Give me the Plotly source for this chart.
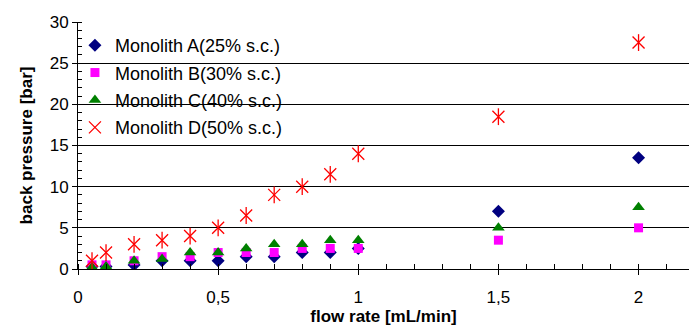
import plotly.graph_objects as go

flow = [0.05, 0.1, 0.2, 0.3, 0.4, 0.5, 0.6, 0.7, 0.8, 0.9, 1.0, 1.5, 2.0]
mono_a = [0.3, 0.3, 0.5, 1.0, 1.0, 1.0, 1.5, 1.5, 2.0, 2.0, 2.5, 7.0, 13.5]
mono_b = [0.5, 0.5, 1.0, 1.5, 1.5, 2.0, 2.0, 2.0, 2.5, 2.5, 2.5, 3.5, 5.0]
mono_c = [0.2, 0.3, 1.0, 1.2, 2.0, 2.0, 2.5, 3.0, 3.0, 3.5, 3.5, 5.0, 7.5]
mono_d = [1.0, 2.0, 3.0, 3.5, 4.0, 5.0, 6.5, 9.0, 10.0, 11.5, 14.0, 18.5, 27.5]
names = ["Monolith A(25% s.c.)", "Monolith B(30% s.c.)", "Monolith C(40% s.c.)", "Monolith D(50% s.c.)"]
x_tickvals = [0, 0.5, 1, 1.5, 2]
x_ticktext = ["0", "0,5", "1", "1,5", "2"]
y_tickvals = [0, 5, 10, 15, 20, 25, 30]

font = "Liberation Sans, Arial, sans-serif"
fig = go.Figure()
fig.add_trace(go.Scatter(x=flow, y=mono_a, mode="markers", name=names[0], legendgroup="a",
                         marker=dict(symbol="diamond", size=10, color="#000080")))
fig.add_trace(go.Scatter(x=flow, y=mono_b, mode="markers", name=names[1], legendgroup="b",
                         marker=dict(symbol="square", size=9, color="#FF00FF")))
fig.add_trace(go.Scatter(x=flow, y=mono_c, mode="markers", name=names[2], legendgroup="c",
                         marker=dict(symbol="triangle-up", size=11, color="#008000")))
fig.add_trace(go.Scatter(x=flow, y=mono_d, mode="markers", name=names[3], legendgroup="d",
                         marker=dict(symbol="x-thin-open", size=12, color="#FF0000",
                                     line=dict(color="#FF0000", width=1.3))))
fig.add_trace(go.Scatter(x=flow, y=mono_d, mode="markers", name=names[3], legendgroup="d",
                         showlegend=False,
                         marker=dict(symbol="line-ns-open", size=12, color="#FF0000",
                                     line=dict(color="#FF0000", width=1.3))))

fig.update_layout(
    width=689, height=326,
    margin=dict(l=78, r=0, t=22, b=57),
    plot_bgcolor="white", paper_bgcolor="white",
    font=dict(family=font, size=17, color="black"),
    showlegend=True,
    legend=dict(x=-0.005, y=0.98, xanchor="left", yanchor="top", bgcolor="rgba(0,0,0,0)",
                font=dict(size=18), tracegroupgap=1, itemwidth=30),
    xaxis=dict(range=[0, 2.18], tickvals=x_tickvals, ticktext=x_ticktext,
               showgrid=False, zeroline=False, showline=True, linecolor="black", linewidth=1,
               ticks="outside", ticklen=5, tickcolor="black", ticklabelstandoff=8,
               minor=dict(dtick=0.1, ticks="inside", ticklen=5, tickcolor="black", showgrid=False),
               title=dict(text="<b>flow rate [mL/min]</b>", font=dict(size=17), standoff=2),
               tickfont=dict(size=17)),
    yaxis=dict(range=[0, 30], tickvals=y_tickvals,
               showgrid=True, gridcolor="black", gridwidth=1, zeroline=False,
               showline=True, linecolor="black", linewidth=1,
               ticks="outside", ticklen=5, tickcolor="black",
               minor=dict(dtick=1, ticks="inside", ticklen=4, tickcolor="black", showgrid=False),
               title=dict(text="<b>back pressure [bar]</b>", font=dict(size=17), standoff=12),
               tickfont=dict(size=17)),
)
fig.write_html("out.html")
